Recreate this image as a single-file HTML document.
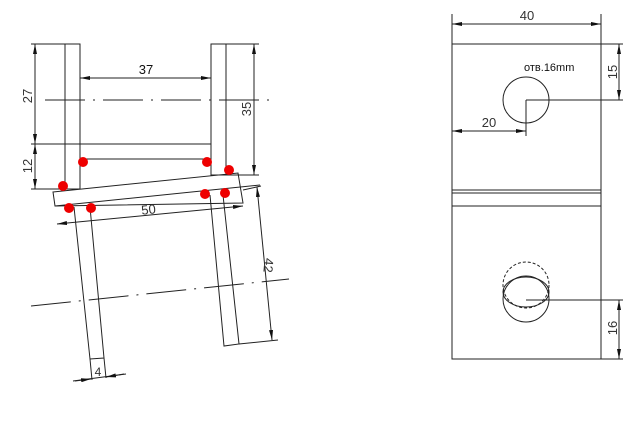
<!DOCTYPE html>
<html><head><style>body{margin:0;background:#fff}svg{display:block}text{font-family:"Liberation Sans",sans-serif;fill:#333}</style></head><body>
<svg width="640" height="437" viewBox="0 0 640 437" xmlns="http://www.w3.org/2000/svg">
<defs><marker id="a" viewBox="0 0 10 4" refX="10" refY="2" markerWidth="10" markerHeight="4" orient="auto-start-reverse" markerUnits="userSpaceOnUse"><path d="M0,0L10,2L0,4z" fill="#111"/></marker></defs>
<g stroke="#222" stroke-width="1" fill="none">
<rect x="65" y="44" width="15" height="145"/>
<rect x="211" y="44" width="15" height="131"/>
<line x1="31" y1="44" x2="65" y2="44"/><line x1="226" y1="44" x2="259" y2="44"/>
<line x1="31" y1="144" x2="211" y2="144"/>
<line x1="80" y1="159" x2="208" y2="159"/>
<line x1="31" y1="189" x2="65" y2="189"/>
<line x1="226" y1="175" x2="259" y2="175"/>
<line x1="35" y1="44" x2="35" y2="144" marker-start="url(#a)" marker-end="url(#a)"/>
<line x1="35" y1="144" x2="35" y2="189" marker-start="url(#a)" marker-end="url(#a)"/>
<line x1="80" y1="78" x2="211" y2="78" marker-start="url(#a)" marker-end="url(#a)"/>
<line x1="254" y1="44" x2="254" y2="175" marker-start="url(#a)" marker-end="url(#a)"/>
<line x1="45" y1="100" x2="277" y2="100" stroke-dasharray="40,8,2,8"/>
<polygon points="53,192 238,173 243,203 55,206"/>
<line x1="55" y1="206" x2="260" y2="185"/>
<line x1="57" y1="224" x2="243" y2="206" marker-start="url(#a)" marker-end="url(#a)"/>
<polyline points="74,207 90,359 104,358 90,207"/>
<polyline points="210,195 224,346 239,344 223,195"/>
<line x1="239" y1="344" x2="278" y2="340"/>
<line x1="243" y1="190" x2="261" y2="186"/>
<line x1="257" y1="187" x2="272" y2="340" marker-start="url(#a)" marker-end="url(#a)"/>
<line x1="90" y1="359" x2="92" y2="380"/><line x1="104" y1="358" x2="106" y2="378"/>
<line x1="73" y1="381" x2="126" y2="374"/>
<line x1="75" y1="381" x2="91" y2="379" marker-end="url(#a)"/><line x1="124" y1="374" x2="106" y2="377" marker-end="url(#a)"/>
<line x1="31" y1="306" x2="289" y2="279" stroke-dasharray="40,8,2,8"/>
<rect x="452" y="44" width="149" height="315"/>
<line x1="452" y1="190" x2="601" y2="190"/><line x1="452" y1="193" x2="601" y2="193"/><line x1="452" y1="206" x2="601" y2="206"/>
<line x1="452" y1="14" x2="452" y2="44"/><line x1="601" y1="14" x2="601" y2="44"/>
<line x1="452" y1="24" x2="601" y2="24" marker-start="url(#a)" marker-end="url(#a)"/>
<circle cx="526" cy="100" r="23"/>
<line x1="526" y1="100" x2="623" y2="100"/><line x1="526" y1="100" x2="526" y2="136"/>
<line x1="601" y1="44" x2="623" y2="44"/>
<line x1="619" y1="44" x2="619" y2="100" marker-start="url(#a)" marker-end="url(#a)"/>
<line x1="452" y1="131" x2="526" y2="131" marker-start="url(#a)" marker-end="url(#a)"/>
<circle cx="526" cy="285" r="23" stroke-dasharray="3,2"/>
<circle cx="526" cy="299" r="23"/>
<ellipse cx="526" cy="292" rx="23" ry="15"/>
<line x1="526" y1="300" x2="623" y2="300"/><line x1="601" y1="359" x2="623" y2="359"/>
<line x1="619" y1="300" x2="619" y2="359" marker-start="url(#a)" marker-end="url(#a)"/>
</g>
<g fill="#e00">
<circle cx="83" cy="162" r="5"/><circle cx="207" cy="162" r="5"/><circle cx="229" cy="170" r="5"/><circle cx="63" cy="186" r="5"/>
<circle cx="69" cy="208" r="5"/><circle cx="91" cy="208" r="5"/><circle cx="205" cy="194" r="5"/><circle cx="225" cy="193" r="5"/>
</g>
<g font-size="13">
<text x="146" y="74" text-anchor="middle" style="fill:#111">37</text>
<text transform="translate(32,96) rotate(-90)" text-anchor="middle">27</text>
<text transform="translate(32,166) rotate(-90)" text-anchor="middle">12</text>
<text transform="translate(251,109) rotate(-90)" text-anchor="middle">35</text>
<text transform="translate(149,214) rotate(-6)" text-anchor="middle">50</text>
<text transform="translate(264,265) rotate(95)" text-anchor="middle">42</text>
<text x="98" y="376" text-anchor="middle" font-size="12">4</text>
<text x="527" y="20" text-anchor="middle">40</text>
<text transform="translate(617,72) rotate(-90)" text-anchor="middle">15</text>
<text transform="translate(617,328) rotate(-90)" text-anchor="middle">16</text>
<text x="489" y="127" text-anchor="middle">20</text>
<text x="524" y="71" font-size="11" style="fill:#111">отв.16mm</text>
</g>
</svg>
</body></html>
